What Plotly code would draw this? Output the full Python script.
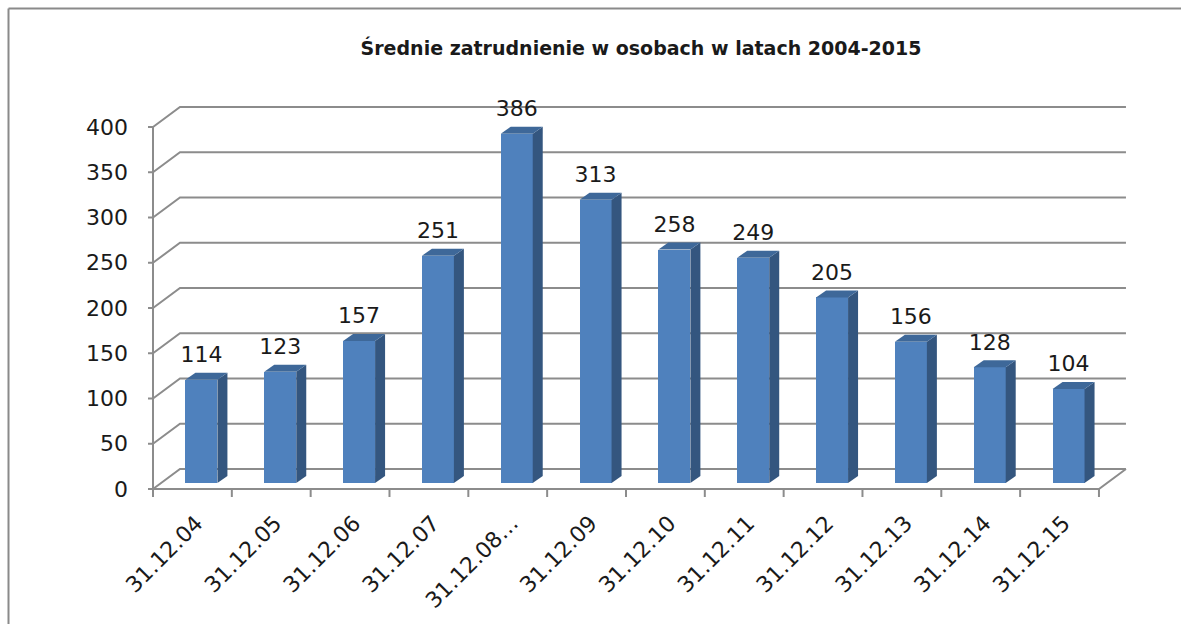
import plotly.graph_objects as go

# ---------------- data ----------------
categories = ["31.12.04", "31.12.05", "31.12.06", "31.12.07", "31.12.08…", "31.12.09",
              "31.12.10", "31.12.11", "31.12.12", "31.12.13", "31.12.14", "31.12.15"]
values = [114, 123, 157, 251, 386, 313, 258, 249, 205, 156, 128, 104]
y_ticks = [0, 50, 100, 150, 200, 250, 300, 350, 400]
title_text = "Średnie zatrudnienie w osobach w latach 2004-2015"

# ---------------- pseudo-3D geometry (in axis units) ----------------
PX_CAT = 78.83      # pixels per category
PX_UNIT = 0.905     # pixels per value unit
WALL_DX = 27 / PX_CAT
WALL_DY = 20 / PX_UNIT
BAR_W = 32 / PX_CAT
BAR_OFF_X = 9 / PX_CAT
BAR_BASE = 6 / PX_UNIT
BAR_DX = 10 / PX_CAT
BAR_DY = 7 / PX_UNIT
TICK_X = 5 / PX_CAT
TICK_Y = 8 / PX_UNIT
LABEL_GAP = 5 / PX_UNIT
XLABEL_SHIFT = 4 / PX_CAT

n = len(categories)
x_left, x_right = -0.5, n - 0.5

FRONT = "#4F81BD"
TOP = "#3E6899"
SIDE = "#34567F"
GRID = "#8C8C8C"
FONT = "DejaVu Sans"

fig = go.Figure()
shapes = []

# back wall gridlines with left diagonal
for v in y_ticks:
    shapes.append(dict(type="path", xref="x", yref="y", layer="below",
                       path=f"M {x_left},{v} L {x_left + WALL_DX},{v + WALL_DY} L {x_right + WALL_DX},{v + WALL_DY}",
                       line=dict(color=GRID, width=2)))
    # y tick marks
    shapes.append(dict(type="line", xref="x", yref="y", layer="below",
                       x0=x_left - TICK_X, x1=x_left, y0=v, y1=v,
                       line=dict(color=GRID, width=2)))
# front vertical axis
shapes.append(dict(type="line", xref="x", yref="y", layer="below",
                   x0=x_left, x1=x_left, y0=0, y1=y_ticks[-1],
                   line=dict(color=GRID, width=2)))
# floor front edge and right diagonal
shapes.append(dict(type="path", xref="x", yref="y", layer="below",
                   path=f"M {x_left},0 L {x_right},0 L {x_right + WALL_DX},{WALL_DY}",
                   line=dict(color=GRID, width=2)))
# category boundary ticks
for i in range(n + 1):
    b = i - 0.5
    shapes.append(dict(type="line", xref="x", yref="y", layer="below",
                       x0=b, x1=b, y0=0, y1=-TICK_Y,
                       line=dict(color=GRID, width=2)))

W, H = 1181, 624
plot_left, plot_right, plot_top, plot_bottom = 143, 1140, 100, 500
pw, ph = plot_right - plot_left, plot_bottom - plot_top

def px_to_paper_x(px):
    return (px - plot_left) / pw

def px_to_paper_y(py):
    return (plot_bottom - py) / ph

# outer frame: only the left and top edges fall inside the picture
shapes.append(dict(type="line", xref="paper", yref="paper",
                   x0=px_to_paper_x(8.5), x1=px_to_paper_x(8.5),
                   y0=px_to_paper_y(H), y1=px_to_paper_y(8.5),
                   line=dict(color="#8A8A8A", width=2)))
shapes.append(dict(type="line", xref="paper", yref="paper",
                   x0=px_to_paper_x(8.5), x1=px_to_paper_x(W),
                   y0=px_to_paper_y(8.5), y1=px_to_paper_y(8.5),
                   line=dict(color="#8A8A8A", width=2)))

# bar side and top faces
for i, v in enumerate(values):
    xc = i + BAR_OFF_X
    xl, xr = xc - BAR_W / 2, xc + BAR_W / 2
    y0, y1 = BAR_BASE, BAR_BASE + v
    fig.add_trace(go.Scatter(
        x=[xr, xr + BAR_DX, xr + BAR_DX, xr, xr],
        y=[y0, y0 + BAR_DY, y1 + BAR_DY, y1, y0],
        fill="toself", fillcolor=SIDE, mode="lines", line=dict(width=0, color=SIDE),
        hoverinfo="skip", showlegend=False))
    fig.add_trace(go.Scatter(
        x=[xl, xr, xr + BAR_DX, xl + BAR_DX, xl],
        y=[y1, y1, y1 + BAR_DY, y1 + BAR_DY, y1],
        fill="toself", fillcolor=TOP, mode="lines", line=dict(width=0, color=TOP),
        hoverinfo="skip", showlegend=False))

# bar front faces
fig.add_trace(go.Bar(
    x=[i + BAR_OFF_X for i in range(n)], y=values, base=BAR_BASE, width=BAR_W,
    marker=dict(color=FRONT, line=dict(width=0)), showlegend=False, hoverinfo="y"))

# data labels
fig.add_trace(go.Scatter(
    x=[i + BAR_OFF_X for i in range(n)],
    y=[BAR_BASE + v + BAR_DY + LABEL_GAP for v in values],
    text=[str(v) for v in values], mode="text", textposition="top center",
    textfont=dict(family=FONT, size=22, color="#1A1A1A"),
    cliponaxis=False, hoverinfo="skip", showlegend=False))

fig.update_layout(
    width=W, height=H, autosize=False,
    margin=dict(l=plot_left, r=W - plot_right, t=plot_top, b=H - plot_bottom, pad=0,
                autoexpand=False),
    paper_bgcolor="white", plot_bgcolor="white",
    shapes=shapes,
    title=dict(text=f"<b>{title_text}</b>", x=641 / W, xanchor="center",
               y=1 - 48 / H, yanchor="middle",
               font=dict(family=FONT, size=19, color="#1A1A1A")),
    xaxis=dict(range=[x_left - 10 / PX_CAT, x_left + (plot_right - 153) / PX_CAT],
               tickvals=[i + XLABEL_SHIFT for i in range(n)], ticktext=categories, tickangle=-45,
               ticks="", showgrid=False, zeroline=False, showline=False, automargin=False,
               ticklabelstandoff=5,
               tickfont=dict(family=FONT, size=22, color="#1A1A1A")),
    yaxis=dict(range=[(489 - plot_bottom) / PX_UNIT, (489 - plot_top) / PX_UNIT],
               tickvals=y_ticks, ticks="", showgrid=False, zeroline=False, showline=False,
               automargin=False, ticklabelstandoff=14,
               tickfont=dict(family=FONT, size=22, color="#1A1A1A")),
    bargap=0,
)

fig.write_html("out.html", config={"displayModeBar": False},
               post_script=("document.documentElement.style.overflow='hidden';"
                            "document.body.style.overflow='hidden';"
                            "document.body.style.margin='0';document.body.style.padding='0';"))
